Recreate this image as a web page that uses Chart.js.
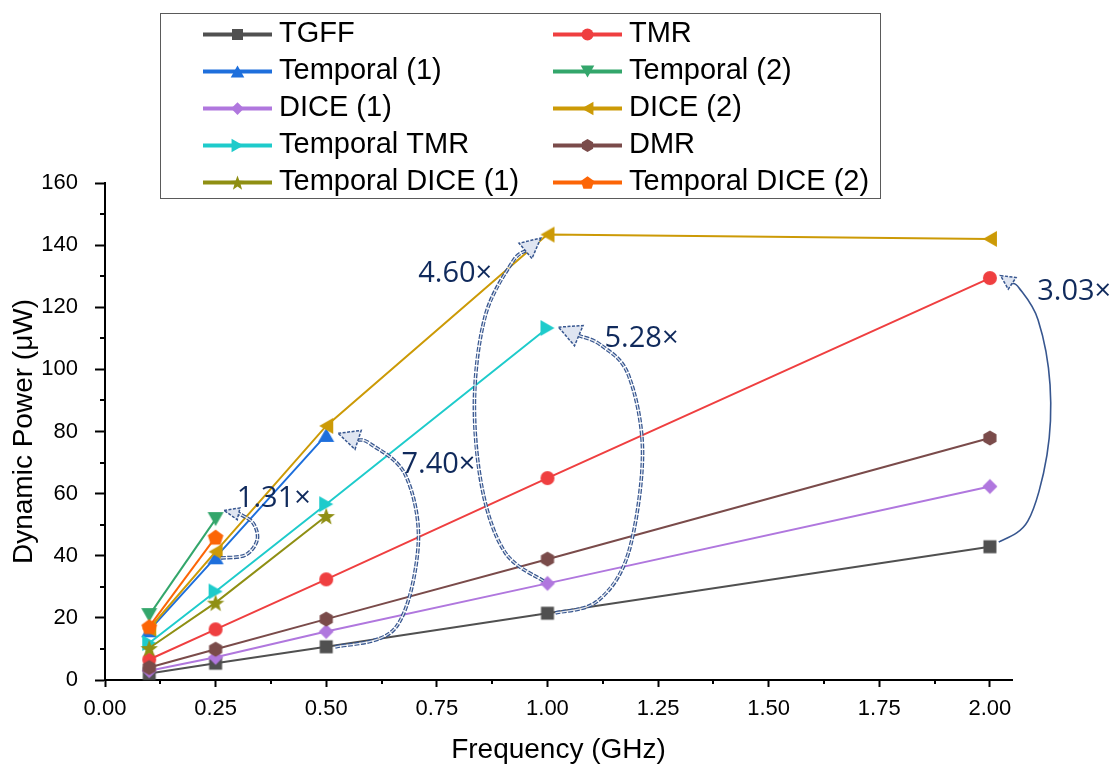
<!DOCTYPE html>
<html>
<head>
<meta charset="utf-8">
<script src="https://cdn.jsdelivr.net/npm/chart.js@4.4.1/dist/chart.umd.min.js"></script>
<style>
html,body{margin:0;padding:0;background:#ffffff;}
#wrap{width:1118px;height:769px;position:relative;}
</style>
</head>
<body>
<div id="wrap"><canvas id="c" width="1118" height="769"></canvas></div>
<script>
// ---------------- data ----------------
const frequencies = [0.1, 0.25, 0.5, 1.0, 2.0];
const seriesNames = ['TGFF', 'TMR', 'Temporal (1)', 'Temporal (2)', 'DICE (1)', 'DICE (2)',
                     'Temporal TMR', 'DMR', 'Temporal DICE (1)', 'Temporal DICE (2)'];
const tgff            = [2.1, 5.4, 10.7, 21.5, 42.9];
const tmr             = [6.6, 16.3, 32.4, 65.0, 129.4];
const temporal1       = [16.0, 39.5, 78.9];
const temporal2       = [20.9, 51.8];
const dice1           = [3.0, 7.3, 15.6, 31.1, 62.3];
const dice2           = [16.5, 41.3, 81.8, 143.4, 142.0];
const temporalTmr     = [11.9, 28.5, 56.6, 113.3];
const dmr             = [4.0, 9.9, 19.6, 38.9, 77.9];
const temporalDice1   = [10.3, 24.9, 52.8];
const temporalDice2   = [17.2, 46.0];
const xTickLabels = ['0.00', '0.25', '0.50', '0.75', '1.00', '1.25', '1.50', '1.75', '2.00'];
const yTickLabels = ['0', '20', '40', '60', '80', '100', '120', '140', '160'];
const ratioLabels = ['1.31×', '7.40×', '4.60×', '5.28×', '3.03×'];

// ---------------- styles ----------------
const seriesValues = [tgff, tmr, temporal1, temporal2, dice1, dice2, temporalTmr, dmr, temporalDice1, temporalDice2];
const seriesColors = ['#505050', '#ef3f40', '#1e6fdc', '#33a66b', '#b077de', '#cc9a06',
                      '#1ecbcb', '#7a4b4a', '#8f8f13', '#fc6506'];
const seriesShapes = ['square', 'circle', 'triUp', 'triDown', 'diamond', 'triLeft',
                      'triRight', 'hexagon', 'star', 'pentagon'];

function shapePath(ctx, shape, cx, cy, k) {
  ctx.beginPath();
  const poly = (pts) => { ctx.moveTo(cx + pts[0][0]*k, cy + pts[0][1]*k);
    for (let i = 1; i < pts.length; i++) ctx.lineTo(cx + pts[i][0]*k, cy + pts[i][1]*k); ctx.closePath(); };
  const reg = (n, R, rot) => { const p = []; for (let i = 0; i < n; i++) { const a = rot + i*2*Math.PI/n; p.push([R*Math.sin(a), -R*Math.cos(a)]); } return p; };
  switch (shape) {
    case 'square': ctx.rect(cx - 6.5*k, cy - 6.5*k, 13*k, 13*k); break;
    case 'circle': ctx.arc(cx, cy, 7*k, 0, Math.PI*2); break;
    case 'triUp': poly([[0,-7],[8,7],[-8,7]]); break;
    case 'triDown': poly([[0,7],[8,-7],[-8,-7]]); break;
    case 'triLeft': poly([[-7,0],[7,-8],[7,8]]); break;
    case 'triRight': poly([[7,0],[-7,-8],[-7,8]]); break;
    case 'diamond': poly([[0,-7.5],[7.5,0],[0,7.5],[-7.5,0]]); break;
    case 'hexagon': poly(reg(6, 7.6, 0)); break;
    case 'pentagon': poly(reg(5, 8.2, 0).map(p => [p[0], p[1] + 0.8])); break;
    case 'star': {
      const p = [];
      for (let i = 0; i < 10; i++) { const R = i % 2 === 0 ? 9.2 : 3.8; const a = i*Math.PI/5;
        p.push([R*Math.sin(a), -R*Math.cos(a) + 1]); }
      poly(p); break;
    }
  }
}
function drawMarker(ctx, shape, cx, cy, k, color) {
  ctx.save();
  shapePath(ctx, shape, cx, cy, k);
  ctx.fillStyle = color;
  ctx.fill();
  ctx.restore();
}
function markerCanvas(shape, color, k) {
  const s = Math.ceil(20*k) + 2;
  const cv = document.createElement('canvas');
  cv.width = s; cv.height = s;
  drawMarker(cv.getContext('2d'), shape, s/2, s/2, k, color);
  return cv;
}

// ---------------- annotation geometry (data coordinates) ----------------
const ratioArrows = [
  {label: [0.298, 55.7], pts: [[0.262,39.3],[0.317,40.2],[0.344,45.1],[0.335,50.5],[0.305,53.4]], tip: [0.269,54.6], head: [15, 6], double: true},
  {label: [0.670, 66.6], pts: [[0.520,10.6],[0.656,16.7],[0.708,43.5],[0.679,66.0],[0.600,76.0]], tip: [0.527,79.4], head: [21, 10], double: true},
  {label: [0.708, 128.1], pts: [[0.991,31.9],[0.905,40.9],[0.853,61.2],[0.835,90.1],[0.860,117.5],[0.921,134.6]], tip: [0.985,142.3], head: [20, 10], double: true},
  {label: [1.129, 107.2], pts: [[1.018,21.6],[1.113,25.4],[1.183,40.9],[1.215,73.1],[1.183,98.2],[1.120,107.9]], tip: [1.025,113.6], head: [22, 11], double: true},
  {label: [2.107, 122.3], pts: [[2.020,44.4],[2.086,51.2],[2.129,72.4],[2.136,95.0],[2.109,115.9],[2.066,126.2]], tip: [2.024,130.2], head: [14, 7], double: false}
];

function smoothPath(ctx, p) {
  ctx.moveTo(p[0][0], p[0][1]);
  for (let i = 0; i < p.length - 1; i++) {
    const p0 = p[i-1] || p[i], p1 = p[i], p2 = p[i+1], p3 = p[i+2] || p2;
    ctx.bezierCurveTo(p1[0] + (p2[0]-p0[0])/6, p1[1] + (p2[1]-p0[1])/6,
                      p2[0] - (p3[0]-p1[0])/6, p2[1] - (p3[1]-p1[1])/6, p2[0], p2[1]);
  }
}

const extrasPlugin = {
  id: 'extras',
  afterDraw(chart) {
    const ctx = chart.ctx;
    const xs = chart.scales.x, ys = chart.scales.y;
    const area = chart.chartArea;
    // minor ticks
    ctx.save();
    ctx.strokeStyle = '#000'; ctx.lineWidth = 2;
    ctx.beginPath();
    for (let v = 0.125; v < 2.05; v += 0.25) {
      const px = Math.round(xs.getPixelForValue(v));
      ctx.moveTo(px, area.bottom); ctx.lineTo(px, area.bottom + 4);
    }
    for (let v = 10; v < 160; v += 20) {
      const py = Math.round(ys.getPixelForValue(v));
      ctx.moveTo(area.left, py); ctx.lineTo(area.left - 5, py);
    }
    ctx.stroke();
    ctx.restore();

    // ratio arrows
    ratioArrows.forEach((a, idx) => {
      const pts = a.pts.map(p => [xs.getPixelForValue(p[0]), ys.getPixelForValue(p[1])]);
      const tip = [xs.getPixelForValue(a.tip[0]), ys.getPixelForValue(a.tip[1])];
      const last = pts[pts.length - 1];
      let dx = tip[0] - last[0], dy = tip[1] - last[1];
      const d = Math.hypot(dx, dy); dx /= d; dy /= d;
      const L = a.head[0], W = a.head[1];
      const base = [tip[0] - dx*L, tip[1] - dy*L];
      const curve = pts.concat([base]);
      ctx.save();
      ctx.lineCap = 'butt';
      ctx.beginPath(); smoothPath(ctx, curve);
      if (a.double) {
        ctx.setLineDash([5, 1.5]);
        ctx.strokeStyle = '#37568f'; ctx.lineWidth = 3.6; ctx.stroke();
        ctx.beginPath(); smoothPath(ctx, curve);
        ctx.setLineDash([]);
        ctx.strokeStyle = 'rgba(255,255,255,0.85)'; ctx.lineWidth = 1.2; ctx.stroke();
      } else {
        ctx.strokeStyle = '#37568f'; ctx.lineWidth = 1.6; ctx.stroke();
      }
      // hollow arrow head
      const nx = -dy, ny = dx;
      ctx.beginPath();
      ctx.moveTo(tip[0], tip[1]);
      ctx.lineTo(base[0] + nx*W, base[1] + ny*W);
      ctx.lineTo(base[0] - nx*W, base[1] - ny*W);
      ctx.closePath();
      ctx.fillStyle = 'rgba(255,255,255,1)'; ctx.fill();
      ctx.fillStyle = 'rgba(80,110,175,0.18)'; ctx.fill();
      ctx.setLineDash([3, 1.5]);
      ctx.strokeStyle = '#37568f'; ctx.lineWidth = 1.5; ctx.stroke();
      ctx.restore();
      // label
      ctx.save();
      ctx.font = '29px "Open Sans", "Noto Sans", sans-serif';
      ctx.fillStyle = '#102a5c';
      ctx.textAlign = 'left'; ctx.textBaseline = 'alphabetic';
      ctx.fillText(ratioLabels[idx], xs.getPixelForValue(a.label[0]), ys.getPixelForValue(a.label[1]));
      ctx.restore();
    });

    // legend box
    ctx.save();
    ctx.fillStyle = '#ffffff';
    ctx.fillRect(160, 13, 720, 185);
    ctx.strokeStyle = '#5a5a5a'; ctx.lineWidth = 1;
    ctx.strokeRect(160.5, 13.5, 720, 185);
    ctx.font = '29px "Liberation Sans", Arial, sans-serif';
    ctx.textBaseline = 'alphabetic'; ctx.textAlign = 'left';
    seriesNames.forEach((name, i) => {
      const col = i % 2, row = Math.floor(i / 2);
      const lx = col === 0 ? 203 : 553;
      const ly = 34.5 + row * 37;
      ctx.strokeStyle = seriesColors[i]; ctx.lineWidth = 4; ctx.lineCap = 'butt';
      ctx.beginPath(); ctx.moveTo(lx, ly); ctx.lineTo(lx + 69, ly); ctx.stroke();
      drawMarker(ctx, seriesShapes[i], lx + 34.5, ly, 0.85, seriesColors[i]);
      ctx.fillStyle = '#000';
      ctx.fillText(name, lx + 76, ly + 7.5);
    });
    ctx.restore();
  }
};

const n = seriesNames.length;
const datasets = seriesNames.map((name, i) => ({
  label: name,
  data: seriesValues[i].map((v, j) => ({x: frequencies[j], y: v})),
  borderColor: seriesColors[i],
  backgroundColor: seriesColors[i],
  borderWidth: 2,
  pointStyle: markerCanvas(seriesShapes[i], seriesColors[i], 1),
  pointRadius: 8,
  pointHoverRadius: 8,
  tension: 0,
  fill: false,
  order: n - i,
  clip: false
}));

new Chart(document.getElementById('c'), {
  type: 'line',
  data: { datasets },
  options: {
    responsive: false,
    animation: false,
    devicePixelRatio: 1,
    layout: { padding: { left: 0, right: 106, top: 183, bottom: 0 } },
    plugins: { legend: { display: false }, tooltip: { enabled: false } },
    scales: {
      x: {
        type: 'linear',
        min: 0, max: 2.05,
        afterFit: (s) => { s.height = 89; },
        border: { display: true, color: '#000', width: 2 },
        grid: { drawOnChartArea: false, drawTicks: true, tickLength: 7, tickColor: '#000', tickWidth: 2 },
        ticks: {
          stepSize: 0.25, includeBounds: false, autoSkip: false, maxRotation: 0,
          padding: 9, color: '#000',
          font: { family: '"Liberation Sans", Arial, sans-serif', size: 22 },
          callback: (v, i) => xTickLabels[i]
        },
        title: {
          display: true, text: 'Frequency (GHz)', color: '#000',
          font: { family: '"Liberation Sans", Arial, sans-serif', size: 28 },
          padding: { top: 0, bottom: 2 }
        }
      },
      y: {
        type: 'linear',
        min: 0, max: 160,
        afterFit: (s) => { s.width = 105; },
        border: { display: true, color: '#000', width: 2 },
        grid: { drawOnChartArea: false, drawTicks: true, tickLength: 10, tickColor: '#000', tickWidth: 2 },
        ticks: {
          stepSize: 20, includeBounds: false, autoSkip: false, padding: 17, color: '#000',
          font: { family: '"Liberation Sans", Arial, sans-serif', size: 22 },
          callback: (v, i) => yTickLabels[i]
        },
        title: {
          display: true, text: 'Dynamic Power (μW)', color: '#000',
          font: { family: '"Liberation Sans", Arial, sans-serif', size: 28 },
          padding: { top: 7, bottom: 0 }
        }
      }
    }
  },
  plugins: [extrasPlugin]
});
</script>
</body>
</html>
